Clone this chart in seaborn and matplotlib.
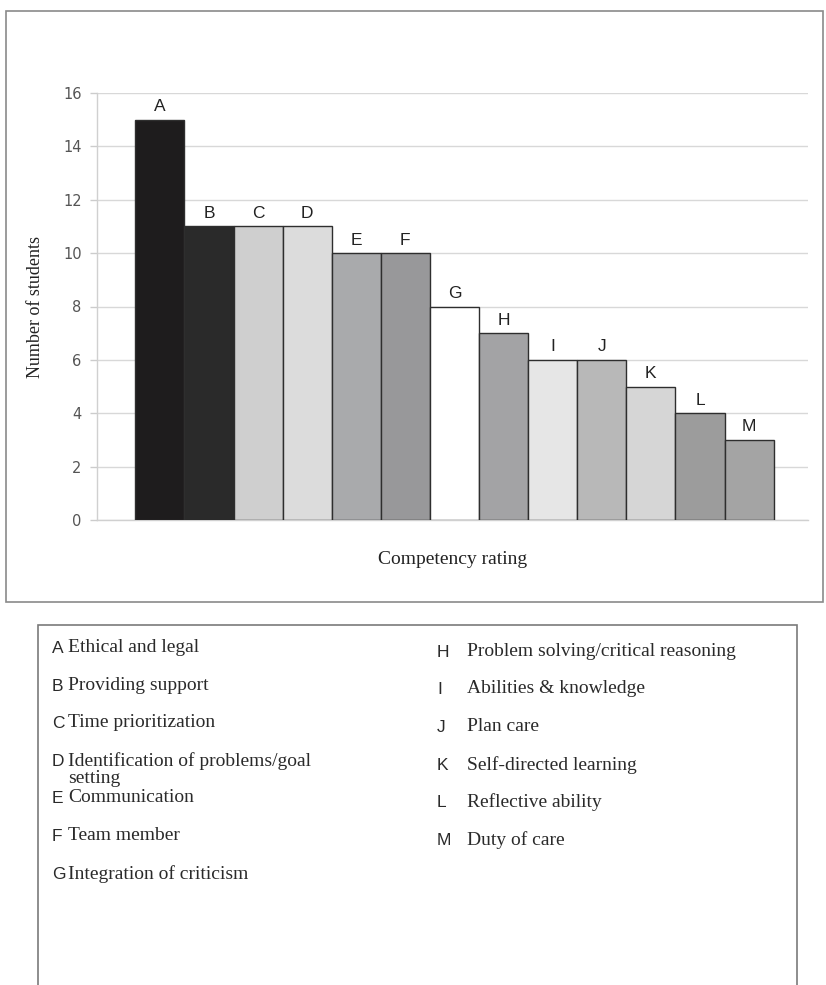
import matplotlib
matplotlib.use("Agg")
import matplotlib.pyplot as plt
import seaborn as sns
import pandas as pd
from matplotlib.patches import Rectangle

sns.set_theme(style="white")

# data
letters = ["A", "B", "C", "D", "E", "F", "G", "H", "I", "J", "K", "L", "M"]
students = [15, 11, 11, 11, 10, 10, 8, 7, 6, 6, 5, 4, 3]
bar_colors = ["#1e1c1d", "#2a2a2a", "#cfcfcf", "#dcdcdc", "#a9aaac", "#98989a",
              "#ffffff", "#a3a3a5", "#e6e6e6", "#b8b8b8", "#d6d6d6", "#9c9c9c", "#a4a4a4"]
y_ticks = [0, 2, 4, 6, 8, 10, 12, 14, 16]
descriptions = ["Ethical and legal", "Providing support", "Time prioritization",
                "Identification of problems/goal\nsetting", "Communication", "Team member",
                "Integration of criticism", "Problem solving/critical reasoning",
                "Abilities & knowledge", "Plan care", "Self-directed learning",
                "Reflective ability", "Duty of care"]

df = pd.DataFrame({"letter": letters, "students": students})

W, H = 826, 985
fig = plt.figure(figsize=(W / 100, H / 100), dpi=100)

def fx(px):
    return px / W

def fy(py):
    return 1 - py / H

# outer frame of the chart
fig.patches.append(Rectangle((fx(6), fy(602)), fx(817), 591 / H, transform=fig.transFigure,
                             fill=False, edgecolor="#8a8a8a", linewidth=1.2))

ax = fig.add_axes([fx(97), fy(520), fx(808 - 97), (520 - 93) / H])
sns.barplot(data=df, x="letter", y="students", hue="letter", palette=bar_colors,
            width=1.0, edgecolor="#2e2e2e", linewidth=1.0, legend=False, ax=ax, zorder=3)

ax.set_xlim(-1.28, 13.2)
ax.set_ylim(0, 16)
ax.set_yticks(y_ticks)
ax.set_yticklabels([str(t) for t in y_ticks], fontfamily="DejaVu Sans", fontsize=10.5, color="#555555")
ax.set_xticks([])
ax.yaxis.grid(True, color="#d8d8d8", linewidth=1.0, zorder=0)
ax.tick_params(axis="y", length=5, width=1, color="#cccccc", pad=6, left=True)
for side in ["top", "right"]:
    ax.spines[side].set_visible(False)
for side in ["left", "bottom"]:
    ax.spines[side].set_color("#d0d0d0")
    ax.spines[side].set_linewidth(1.0)

ax.set_ylabel("Number of students", fontfamily="Liberation Serif", fontsize=13,
              color="#222222", labelpad=14)
ax.set_xlabel("Competency rating", fontfamily="Liberation Serif", fontsize=14,
              color="#222222", labelpad=22)

# letters on top of bars
for i, (lab, val) in enumerate(zip(letters, students)):
    ax.annotate(lab, (i, val), xytext=(0, 4), textcoords="offset points", ha="center",
                va="bottom", fontfamily="Liberation Sans", fontsize=12.5, color="#222222")

# key box below
fig.patches.append(Rectangle((fx(38), fy(990)), fx(797 - 38), (990 - 625) / H,
                             transform=fig.transFigure, fill=False,
                             edgecolor="#7a7a7a", linewidth=1.2))

left_rows = [647, 685, 722, 760, 797, 835, 873]
right_rows = [651, 688, 726, 764, 801, 839]
for i, (lab, desc) in enumerate(zip(letters, descriptions)):
    if i < 7:
        yc, xl, xd = left_rows[i], 52, 68
    else:
        yc, xl, xd = right_rows[i - 7], 437, 467
    fig.text(fx(xl), fy(yc - 6), lab, ha="left", va="top",
             fontfamily="Liberation Sans", fontsize=12.5, color="#2a2a2a")
    fig.text(fx(xd), fy(yc - 8), desc, ha="left", va="top", linespacing=1.0,
             fontfamily="Liberation Serif", fontsize=14, color="#2a2a2a")

fig.savefig("out.png", dpi=100, facecolor="white")
